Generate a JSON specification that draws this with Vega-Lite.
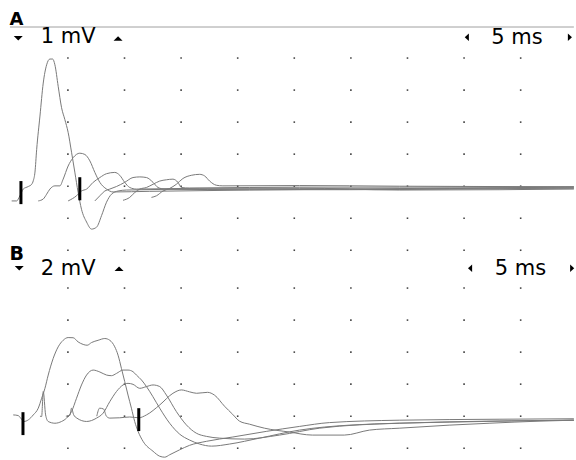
{
"$schema":"https://vega.github.io/schema/vega-lite/v6.json",
"width":576,"height":460,"padding":0,
"autosize":{"type":"fit","contains":"padding"},
"background":"white",
"config":{"view":{"stroke":null}},
"datasets":{
"gridA":[
{"t":6,"v":4},{"t":11,"v":4},{"t":16,"v":4},{"t":21,"v":4},{"t":26,"v":4},{"t":31,"v":4},{"t":36,"v":4},{"t":41,"v":4},{"t":46,"v":4},
{"t":6,"v":3},{"t":11,"v":3},{"t":16,"v":3},{"t":21,"v":3},{"t":26,"v":3},{"t":31,"v":3},{"t":36,"v":3},{"t":41,"v":3},{"t":46,"v":3},
{"t":6,"v":2},{"t":11,"v":2},{"t":16,"v":2},{"t":21,"v":2},{"t":26,"v":2},{"t":31,"v":2},{"t":36,"v":2},{"t":41,"v":2},{"t":46,"v":2},
{"t":6,"v":1},{"t":11,"v":1},{"t":16,"v":1},{"t":21,"v":1},{"t":26,"v":1},{"t":31,"v":1},{"t":36,"v":1},{"t":41,"v":1},{"t":46,"v":1},
{"t":6,"v":0},{"t":11,"v":0},{"t":16,"v":0},{"t":21,"v":0},{"t":26,"v":0},{"t":31,"v":0},{"t":36,"v":0},{"t":41,"v":0},{"t":46,"v":0},
{"t":6,"v":-1},{"t":11,"v":-1},{"t":16,"v":-1},{"t":21,"v":-1},{"t":26,"v":-1},{"t":31,"v":-1},{"t":36,"v":-1},{"t":41,"v":-1},{"t":46,"v":-1},
{"t":6,"v":-2},{"t":11,"v":-2},{"t":16,"v":-2},{"t":21,"v":-2},{"t":26,"v":-2},{"t":31,"v":-2},{"t":36,"v":-2},{"t":41,"v":-2},{"t":46,"v":-2}
],
"gridB":[
{"t":6,"v":8},{"t":11,"v":8},{"t":16,"v":8},{"t":21,"v":8},{"t":26,"v":8},{"t":31,"v":8},{"t":36,"v":8},{"t":41,"v":8},{"t":46,"v":8},
{"t":6,"v":6},{"t":11,"v":6},{"t":16,"v":6},{"t":21,"v":6},{"t":26,"v":6},{"t":31,"v":6},{"t":36,"v":6},{"t":41,"v":6},{"t":46,"v":6},
{"t":6,"v":4},{"t":11,"v":4},{"t":16,"v":4},{"t":21,"v":4},{"t":26,"v":4},{"t":31,"v":4},{"t":36,"v":4},{"t":41,"v":4},{"t":46,"v":4},
{"t":6,"v":2},{"t":11,"v":2},{"t":16,"v":2},{"t":21,"v":2},{"t":26,"v":2},{"t":31,"v":2},{"t":36,"v":2},{"t":41,"v":2},{"t":46,"v":2},
{"t":6,"v":0},{"t":11,"v":0},{"t":16,"v":0},{"t":21,"v":0},{"t":26,"v":0},{"t":31,"v":0},{"t":36,"v":0},{"t":41,"v":0},{"t":46,"v":0},
{"t":6,"v":-2},{"t":11,"v":-2},{"t":16,"v":-2},{"t":21,"v":-2},{"t":26,"v":-2},{"t":31,"v":-2},{"t":36,"v":-2},{"t":41,"v":-2},{"t":46,"v":-2}
],
"tracesA":[
{"s":"a1","t":1.03,"v":-0.46},{"s":"a1","t":1.47,"v":-0.46},{"s":"a1","t":1.76,"v":-0.30},{"s":"a1","t":2.05,"v":-0.09},{"s":"a1","t":2.50,"v":-0.01},{"s":"a1","t":2.80,"v":0.06},{"s":"a1","t":2.94,"v":0.17},{"s":"a1","t":3.09,"v":0.44},{"s":"a1","t":3.24,"v":1.15},{"s":"a1","t":3.53,"v":2.19},{"s":"a1","t":3.82,"v":3.22},{"s":"a1","t":4.12,"v":3.79},{"s":"a1","t":4.41,"v":3.97},{"s":"a1","t":4.65,"v":3.97},{"s":"a1","t":4.85,"v":3.79},{"s":"a1","t":5.14,"v":3.12},{"s":"a1","t":5.44,"v":2.45},{"s":"a1","t":5.73,"v":2.08},{"s":"a1","t":6.02,"v":1.68},{"s":"a1","t":6.32,"v":1.06},{"s":"a1","t":6.61,"v":0.44},{"s":"a1","t":6.90,"v":-0.19},{"s":"a1","t":7.20,"v":-0.72},{"s":"a1","t":7.65,"v":-1.12},{"s":"a1","t":8.09,"v":-1.34},{"s":"a1","t":8.53,"v":-1.28},{"s":"a1","t":8.97,"v":-0.92},{"s":"a1","t":9.41,"v":-0.50},{"s":"a1","t":9.85,"v":-0.25},{"s":"a1","t":10.43,"v":-0.15},{"s":"a1","t":11.17,"v":-0.12},{"s":"a1","t":17.64,"v":-0.09},{"s":"a1","t":26.45,"v":-0.08},{"s":"a1","t":35.27,"v":-0.09},{"s":"a1","t":44.09,"v":-0.06},{"s":"a1","t":50.70,"v":-0.06},
{"s":"a2","t":3.38,"v":-0.46},{"s":"a2","t":3.82,"v":-0.40},{"s":"a2","t":4.12,"v":-0.25},{"s":"a2","t":4.41,"v":-0.09},{"s":"a2","t":4.85,"v":0.01},{"s":"a2","t":5.29,"v":0.01},{"s":"a2","t":5.58,"v":0.22},{"s":"a2","t":6.02,"v":0.63},{"s":"a2","t":6.46,"v":0.89},{"s":"a2","t":7.05,"v":1.03},{"s":"a2","t":7.50,"v":0.99},{"s":"a2","t":7.94,"v":0.79},{"s":"a2","t":8.38,"v":0.43},{"s":"a2","t":8.82,"v":0.12},{"s":"a2","t":9.41,"v":-0.09},{"s":"a2","t":9.99,"v":-0.18},{"s":"a2","t":13.23,"v":-0.16},{"s":"a2","t":22.05,"v":-0.12},{"s":"a2","t":30.86,"v":-0.09},{"s":"a2","t":39.68,"v":-0.06},{"s":"a2","t":50.70,"v":-0.03},
{"s":"a3","t":6.02,"v":-0.46},{"s":"a3","t":6.76,"v":-0.30},{"s":"a3","t":7.20,"v":-0.15},{"s":"a3","t":7.65,"v":-0.09},{"s":"a3","t":8.23,"v":0.12},{"s":"a3","t":8.82,"v":0.27},{"s":"a3","t":9.41,"v":0.39},{"s":"a3","t":10.14,"v":0.43},{"s":"a3","t":10.58,"v":0.34},{"s":"a3","t":11.02,"v":0.12},{"s":"a3","t":11.46,"v":-0.04},{"s":"a3","t":12.05,"v":-0.09},{"s":"a3","t":17.64,"v":-0.06},{"s":"a3","t":26.45,"v":-0.03},{"s":"a3","t":35.27,"v":-0.03},{"s":"a3","t":50.70,"v":-0.02},
{"s":"a4","t":8.38,"v":-0.46},{"s":"a4","t":8.82,"v":-0.30},{"s":"a4","t":9.26,"v":-0.15},{"s":"a4","t":9.70,"v":-0.09},{"s":"a4","t":10.29,"v":-0.01},{"s":"a4","t":11.02,"v":0.12},{"s":"a4","t":11.75,"v":0.27},{"s":"a4","t":12.35,"v":0.29},{"s":"a4","t":12.94,"v":0.27},{"s":"a4","t":13.52,"v":0.12},{"s":"a4","t":13.96,"v":-0.04},{"s":"a4","t":14.55,"v":-0.09},{"s":"a4","t":22.05,"v":-0.11},{"s":"a4","t":30.86,"v":-0.11},{"s":"a4","t":39.68,"v":-0.09},{"s":"a4","t":50.70,"v":-0.06},
{"s":"a5","t":10.87,"v":-0.44},{"s":"a5","t":11.46,"v":-0.35},{"s":"a5","t":11.90,"v":-0.20},{"s":"a5","t":12.35,"v":-0.09},{"s":"a5","t":12.94,"v":-0.04},{"s":"a5","t":13.52,"v":0.06},{"s":"a5","t":14.11,"v":0.16},{"s":"a5","t":14.70,"v":0.20},{"s":"a5","t":15.28,"v":0.22},{"s":"a5","t":15.72,"v":0.12},{"s":"a5","t":16.02,"v":-0.04},{"s":"a5","t":16.75,"v":-0.06},{"s":"a5","t":26.45,"v":-0.06},{"s":"a5","t":35.27,"v":-0.12},{"s":"a5","t":44.09,"v":-0.11},{"s":"a5","t":50.70,"v":-0.09},
{"s":"a6","t":13.38,"v":-0.35},{"s":"a6","t":13.82,"v":-0.30},{"s":"a6","t":14.40,"v":-0.15},{"s":"a6","t":14.99,"v":-0.07},{"s":"a6","t":15.58,"v":0.06},{"s":"a6","t":16.16,"v":0.24},{"s":"a6","t":16.90,"v":0.34},{"s":"a6","t":17.64,"v":0.37},{"s":"a6","t":18.08,"v":0.32},{"s":"a6","t":18.52,"v":0.16},{"s":"a6","t":19.11,"v":0.03},{"s":"a6","t":19.69,"v":0.01},{"s":"a6","t":26.45,"v":0.02},{"s":"a6","t":35.27,"v":0.00},{"s":"a6","t":50.70,"v":-0.02}
],
"tracesB":[
{"s":"b1","t":1.17,"v":0.08},{"s":"b1","t":1.61,"v":0.04},{"s":"b1","t":1.83,"v":-0.12},{"s":"b1","t":2.12,"v":-0.33},{"s":"b1","t":2.50,"v":-0.23},{"s":"b1","t":2.94,"v":0.08},{"s":"b1","t":3.38,"v":0.50},{"s":"b1","t":3.68,"v":1.12},{"s":"b1","t":3.97,"v":1.74},{"s":"b1","t":4.26,"v":2.57},{"s":"b1","t":4.70,"v":3.61},{"s":"b1","t":5.14,"v":4.33},{"s":"b1","t":5.58,"v":4.74},{"s":"b1","t":6.02,"v":4.91},{"s":"b1","t":6.46,"v":4.90},{"s":"b1","t":6.90,"v":4.64},{"s":"b1","t":7.35,"v":4.48},{"s":"b1","t":7.70,"v":4.43},{"s":"b1","t":8.09,"v":4.60},{"s":"b1","t":8.67,"v":4.74},{"s":"b1","t":9.26,"v":4.85},{"s":"b1","t":9.70,"v":4.74},{"s":"b1","t":10.14,"v":4.33},{"s":"b1","t":10.43,"v":3.81},{"s":"b1","t":10.73,"v":2.98},{"s":"b1","t":11.02,"v":2.16},{"s":"b1","t":11.31,"v":1.32},{"s":"b1","t":11.61,"v":0.50},{"s":"b1","t":11.90,"v":-0.33},{"s":"b1","t":12.20,"v":-0.95},{"s":"b1","t":12.64,"v":-1.57},{"s":"b1","t":13.52,"v":-2.19},{"s":"b1","t":14.11,"v":-2.50},{"s":"b1","t":14.55,"v":-2.56},{"s":"b1","t":14.99,"v":-2.41},{"s":"b1","t":15.87,"v":-2.10},{"s":"b1","t":16.75,"v":-1.82},{"s":"b1","t":18.23,"v":-1.57},{"s":"b1","t":20.57,"v":-1.30},{"s":"b1","t":23.52,"v":-0.95},{"s":"b1","t":26.45,"v":-0.64},{"s":"b1","t":29.10,"v":-0.40},{"s":"b1","t":35.27,"v":-0.25},{"s":"b1","t":44.09,"v":-0.19},{"s":"b1","t":50.70,"v":-0.16},
{"s":"b2","t":3.53,"v":0.00},{"s":"b2","t":3.68,"v":-0.02},{"s":"b2","t":3.82,"v":1.54},{"s":"b2","t":4.03,"v":0.08},{"s":"b2","t":4.26,"v":-0.33},{"s":"b2","t":4.85,"v":-0.44},{"s":"b2","t":5.44,"v":-0.33},{"s":"b2","t":5.88,"v":-0.12},{"s":"b2","t":6.32,"v":0.29},{"s":"b2","t":6.76,"v":1.12},{"s":"b2","t":7.20,"v":1.95},{"s":"b2","t":7.65,"v":2.57},{"s":"b2","t":8.23,"v":2.88},{"s":"b2","t":8.82,"v":2.76},{"s":"b2","t":9.41,"v":2.57},{"s":"b2","t":9.85,"v":2.53},{"s":"b2","t":10.29,"v":2.67},{"s":"b2","t":10.87,"v":2.88},{"s":"b2","t":11.31,"v":2.88},{"s":"b2","t":11.75,"v":2.78},{"s":"b2","t":12.05,"v":2.57},{"s":"b2","t":12.50,"v":2.26},{"s":"b2","t":12.94,"v":1.85},{"s":"b2","t":13.49,"v":1.24},{"s":"b2","t":14.11,"v":0.50},{"s":"b2","t":14.99,"v":-0.44},{"s":"b2","t":15.87,"v":-1.12},{"s":"b2","t":16.75,"v":-1.49},{"s":"b2","t":17.64,"v":-1.74},{"s":"b2","t":18.69,"v":-1.87},{"s":"b2","t":20.28,"v":-1.74},{"s":"b2","t":22.93,"v":-1.37},{"s":"b2","t":26.45,"v":-0.87},{"s":"b2","t":30.86,"v":-0.56},{"s":"b2","t":39.68,"v":-0.37},{"s":"b2","t":50.70,"v":-0.25},
{"s":"b3","t":5.82,"v":0.00},{"s":"b3","t":6.17,"v":0.05},{"s":"b3","t":6.32,"v":0.50},{"s":"b3","t":6.50,"v":0.10},{"s":"b3","t":6.79,"v":-0.12},{"s":"b3","t":7.65,"v":-0.33},{"s":"b3","t":8.53,"v":-0.12},{"s":"b3","t":9.11,"v":0.19},{"s":"b3","t":9.70,"v":0.91},{"s":"b3","t":10.29,"v":1.54},{"s":"b3","t":10.87,"v":1.95},{"s":"b3","t":11.31,"v":2.05},{"s":"b3","t":11.75,"v":1.99},{"s":"b3","t":12.35,"v":1.74},{"s":"b3","t":12.94,"v":1.85},{"s":"b3","t":13.52,"v":1.95},{"s":"b3","t":14.11,"v":1.85},{"s":"b3","t":14.70,"v":1.32},{"s":"b3","t":15.58,"v":0.29},{"s":"b3","t":16.46,"v":-0.54},{"s":"b3","t":17.34,"v":-1.06},{"s":"b3","t":18.23,"v":-1.26},{"s":"b3","t":19.40,"v":-1.37},{"s":"b3","t":21.60,"v":-1.43},{"s":"b3","t":24.69,"v":-1.18},{"s":"b3","t":28.22,"v":-0.75},{"s":"b3","t":35.27,"v":-0.44},{"s":"b3","t":50.70,"v":-0.25},
{"s":"b4","t":8.55,"v":0.00},{"s":"b4","t":8.80,"v":0.50},{"s":"b4","t":9.15,"v":0.45},{"s":"b4","t":9.40,"v":0.00},{"s":"b4","t":9.70,"v":-0.12},{"s":"b4","t":10.58,"v":-0.10},{"s":"b4","t":11.46,"v":-0.05},{"s":"b4","t":12.26,"v":-0.10},{"s":"b4","t":12.94,"v":0.08},{"s":"b4","t":14.11,"v":0.70},{"s":"b4","t":15.28,"v":1.43},{"s":"b4","t":16.02,"v":1.64},{"s":"b4","t":16.75,"v":1.52},{"s":"b4","t":17.37,"v":1.43},{"s":"b4","t":18.34,"v":1.49},{"s":"b4","t":18.96,"v":1.31},{"s":"b4","t":19.84,"v":0.62},{"s":"b4","t":20.55,"v":0.12},{"s":"b4","t":21.16,"v":-0.31},{"s":"b4","t":22.05,"v":-0.50},{"s":"b4","t":23.37,"v":-0.75},{"s":"b4","t":25.57,"v":-0.99},{"s":"b4","t":27.60,"v":-1.18},{"s":"b4","t":30.42,"v":-1.18},{"s":"b4","t":32.63,"v":-0.87},{"s":"b4","t":35.27,"v":-0.75},{"s":"b4","t":39.68,"v":-0.56},{"s":"b4","t":43.21,"v":-0.44},{"s":"b4","t":47.62,"v":-0.31},{"s":"b4","t":50.70,"v":-0.25}
],
"stimA":[{"t":1.85,"v":0.16,"v2":-0.56},{"t":7.05,"v":0.28,"v2":-0.44}],
"stimB":[{"t":2.03,"v":0.25,"v2":-1.18},{"t":12.26,"v":0.50,"v2":-0.93}]
},
"resolve":{"scale":{"y":"independent"}},
"layer":[
{"data":{"name":"gridA"},"mark":{"type":"square","size":2.5,"color":"#444","opacity":1},
 "encoding":{"x":{"field":"t","type":"quantitative","scale":{"domain":[0,50.8],"nice":false,"zero":false},"axis":null},
  "y":{"field":"v","type":"quantitative","scale":{"domain":[-8.486,5.813],"nice":false,"zero":false},"axis":null}}},
{"data":{"name":"gridB"},"mark":{"type":"square","size":2.5,"color":"#444","opacity":1},
 "encoding":{"x":{"field":"t","type":"quantitative","scale":{"domain":[0,50.8],"nice":false,"zero":false},"axis":null},
  "y":{"field":"v","type":"quantitative","scale":{"domain":[-2.611,25.99],"nice":false,"zero":false},"axis":null}}},
{"data":{"name":"tracesA"},"mark":{"type":"line","stroke":"#7a7a7a","strokeWidth":1,"interpolate":"monotone"},
 "encoding":{"x":{"field":"t","type":"quantitative","scale":{"domain":[0,50.8],"nice":false,"zero":false},"axis":null},
  "y":{"field":"v","type":"quantitative","scale":{"domain":[-8.486,5.813],"nice":false,"zero":false},"axis":null},
  "detail":{"field":"s"}}},
{"data":{"name":"tracesB"},"mark":{"type":"line","stroke":"#7a7a7a","strokeWidth":1,"interpolate":"monotone"},
 "encoding":{"x":{"field":"t","type":"quantitative","scale":{"domain":[0,50.8],"nice":false,"zero":false},"axis":null},
  "y":{"field":"v","type":"quantitative","scale":{"domain":[-2.611,25.99],"nice":false,"zero":false},"axis":null},
  "detail":{"field":"s"}}},
{"data":{"name":"stimA"},"mark":{"type":"rule","color":"black","strokeWidth":3},
 "encoding":{"x":{"field":"t","type":"quantitative","scale":{"domain":[0,50.8],"nice":false,"zero":false},"axis":null},
  "y":{"field":"v","type":"quantitative","scale":{"domain":[-8.486,5.813],"nice":false,"zero":false},"axis":null},
  "y2":{"field":"v2"}}},
{"data":{"name":"stimB"},"mark":{"type":"rule","color":"black","strokeWidth":3},
 "encoding":{"x":{"field":"t","type":"quantitative","scale":{"domain":[0,50.8],"nice":false,"zero":false},"axis":null},
  "y":{"field":"v","type":"quantitative","scale":{"domain":[-2.611,25.99],"nice":false,"zero":false},"axis":null},
  "y2":{"field":"v2"}}},
{"data":{"values":[{}]},"mark":{"type":"rule","color":"#a0a0a0","strokeWidth":1},
 "encoding":{"x":{"datum":0.88,"type":"quantitative","scale":{"domain":[0,50.8],"nice":false,"zero":false},"axis":null},
  "x2":{"datum":50.7},
  "y":{"datum":4.97,"type":"quantitative","scale":{"domain":[-8.486,5.813],"nice":false,"zero":false},"axis":null}}},
{"data":{"values":[{}]},"mark":{"type":"text","text":"A","font":"DejaVu Sans","fontWeight":"bold","fontSize":18,"align":"left","baseline":"alphabetic","color":"black"},
 "encoding":{"x":{"datum":0.85,"type":"quantitative","scale":{"domain":[0,50.8],"nice":false,"zero":false},"axis":null},
  "y":{"datum":5.04,"type":"quantitative","scale":{"domain":[-8.486,5.813],"nice":false,"zero":false},"axis":null}}},
{"data":{"values":[{}]},"mark":{"type":"text","text":"1 mV","font":"DejaVu Sans","fontSize":21,"align":"left","baseline":"alphabetic","color":"black"},
 "encoding":{"x":{"datum":3.60,"type":"quantitative","scale":{"domain":[0,50.8],"nice":false,"zero":false},"axis":null},
  "y":{"datum":4.47,"type":"quantitative","scale":{"domain":[-8.486,5.813],"nice":false,"zero":false},"axis":null}}},
{"data":{"values":[{}]},"mark":{"type":"text","text":"5 ms","font":"DejaVu Sans","fontSize":21,"align":"left","baseline":"alphabetic","color":"black"},
 "encoding":{"x":{"datum":43.40,"type":"quantitative","scale":{"domain":[0,50.8],"nice":false,"zero":false},"axis":null},
  "y":{"datum":4.45,"type":"quantitative","scale":{"domain":[-8.486,5.813],"nice":false,"zero":false},"axis":null}}},
{"data":{"values":[{}]},"mark":{"type":"text","text":"B","font":"DejaVu Sans","fontWeight":"bold","fontSize":19,"align":"left","baseline":"alphabetic","color":"black"},
 "encoding":{"x":{"datum":0.85,"type":"quantitative","scale":{"domain":[0,50.8],"nice":false,"zero":false},"axis":null},
  "y":{"datum":9.78,"type":"quantitative","scale":{"domain":[-2.611,25.99],"nice":false,"zero":false},"axis":null}}},
{"data":{"values":[{}]},"mark":{"type":"text","text":"2 mV","font":"DejaVu Sans","fontSize":21,"align":"left","baseline":"alphabetic","color":"black"},
 "encoding":{"x":{"datum":3.60,"type":"quantitative","scale":{"domain":[0,50.8],"nice":false,"zero":false},"axis":null},
  "y":{"datum":8.83,"type":"quantitative","scale":{"domain":[-2.611,25.99],"nice":false,"zero":false},"axis":null}}},
{"data":{"values":[{}]},"mark":{"type":"text","text":"5 ms","font":"DejaVu Sans","fontSize":21,"align":"left","baseline":"alphabetic","color":"black"},
 "encoding":{"x":{"datum":43.70,"type":"quantitative","scale":{"domain":[0,50.8],"nice":false,"zero":false},"axis":null},
  "y":{"datum":8.83,"type":"quantitative","scale":{"domain":[-2.611,25.99],"nice":false,"zero":false},"axis":null}}},
{"data":{"values":[{}]},"mark":{"type":"point","shape":"M-1,-0.5L1,-0.5L0,0.5Z","filled":true,"size":81,"color":"black","opacity":1},
 "encoding":{"x":{"datum":1.61,"type":"quantitative","scale":{"domain":[0,50.8],"nice":false,"zero":false},"axis":null},
  "y":{"datum":4.62,"type":"quantitative","scale":{"domain":[-8.486,5.813],"nice":false,"zero":false},"axis":null}}},
{"data":{"values":[{}]},"mark":{"type":"point","shape":"M-1,0.5L1,0.5L0,-0.5Z","filled":true,"size":81,"color":"black","opacity":1},
 "encoding":{"x":{"datum":10.43,"type":"quantitative","scale":{"domain":[0,50.8],"nice":false,"zero":false},"axis":null},
  "y":{"datum":4.61,"type":"quantitative","scale":{"domain":[-8.486,5.813],"nice":false,"zero":false},"axis":null}}},
{"data":{"values":[{}]},"mark":{"type":"point","shape":"M0.55,-1L0.55,1L-0.55,0Z","filled":true,"size":56,"color":"black","opacity":1},
 "encoding":{"x":{"datum":41.24,"type":"quantitative","scale":{"domain":[0,50.8],"nice":false,"zero":false},"axis":null},
  "y":{"datum":4.65,"type":"quantitative","scale":{"domain":[-8.486,5.813],"nice":false,"zero":false},"axis":null}}},
{"data":{"values":[{}]},"mark":{"type":"point","shape":"M-0.55,-1L-0.55,1L0.55,0Z","filled":true,"size":56,"color":"black","opacity":1},
 "encoding":{"x":{"datum":50.35,"type":"quantitative","scale":{"domain":[0,50.8],"nice":false,"zero":false},"axis":null},
  "y":{"datum":4.65,"type":"quantitative","scale":{"domain":[-8.486,5.813],"nice":false,"zero":false},"axis":null}}},
{"data":{"values":[{}]},"mark":{"type":"point","shape":"M-1,-0.5L1,-0.5L0,0.5Z","filled":true,"size":81,"color":"black","opacity":1},
 "encoding":{"x":{"datum":1.70,"type":"quantitative","scale":{"domain":[0,50.8],"nice":false,"zero":false},"axis":null},
  "y":{"datum":9.24,"type":"quantitative","scale":{"domain":[-2.611,25.99],"nice":false,"zero":false},"axis":null}}},
{"data":{"values":[{}]},"mark":{"type":"point","shape":"M-1,0.5L1,0.5L0,-0.5Z","filled":true,"size":81,"color":"black","opacity":1},
 "encoding":{"x":{"datum":10.52,"type":"quantitative","scale":{"domain":[0,50.8],"nice":false,"zero":false},"axis":null},
  "y":{"datum":9.20,"type":"quantitative","scale":{"domain":[-2.611,25.99],"nice":false,"zero":false},"axis":null}}},
{"data":{"values":[{}]},"mark":{"type":"point","shape":"M0.55,-1L0.55,1L-0.55,0Z","filled":true,"size":56,"color":"black","opacity":1},
 "encoding":{"x":{"datum":41.53,"type":"quantitative","scale":{"domain":[0,50.8],"nice":false,"zero":false},"axis":null},
  "y":{"datum":9.24,"type":"quantitative","scale":{"domain":[-2.611,25.99],"nice":false,"zero":false},"axis":null}}},
{"data":{"values":[{}]},"mark":{"type":"point","shape":"M-0.55,-1L-0.55,1L0.55,0Z","filled":true,"size":56,"color":"black","opacity":1},
 "encoding":{"x":{"datum":50.55,"type":"quantitative","scale":{"domain":[0,50.8],"nice":false,"zero":false},"axis":null},
  "y":{"datum":9.24,"type":"quantitative","scale":{"domain":[-2.611,25.99],"nice":false,"zero":false},"axis":null}}}
]
}
